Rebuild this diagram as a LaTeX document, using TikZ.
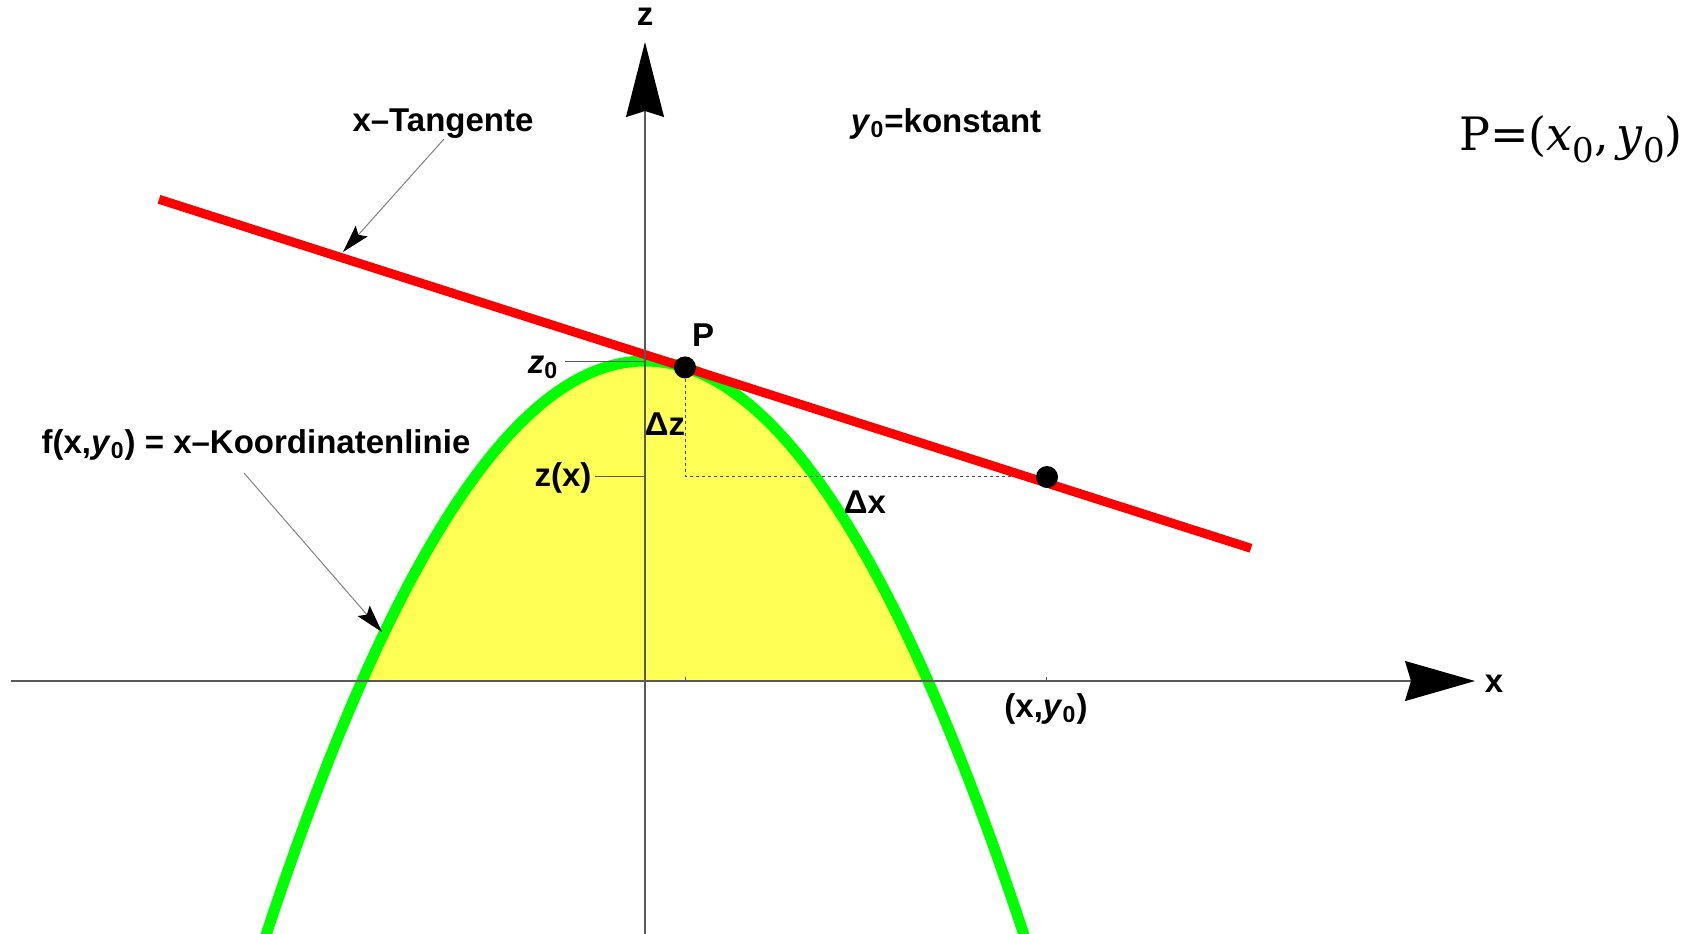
\documentclass[tikz,border=0pt]{standalone}
\usepackage{fontspec}
\setmainfont{Liberation Sans}
\newfontfamily\seriffont{DejaVu Serif}
\usetikzlibrary{arrows.meta}
\definecolor{parabgreen}{RGB}{0,255,0}
\definecolor{tangred}{RGB}{255,0,0}
\definecolor{fillyel}{RGB}{255,255,85}
\definecolor{axisgray}{RGB}{90,90,90}
\newcommand{\psub}[1]{\raisebox{-0.28em}{\fontsize{17}{20}\selectfont #1}}
\begin{document}
\begin{tikzpicture}[x=0.5pt,y=-0.5pt,
  lab/.style={font=\fontsize{16.5}{19}\selectfont\bfseries, inner sep=0pt},
  axisline/.style={draw=axisgray, line width=0.6pt},
  thinline/.style={draw=axisgray, line width=0.5pt},
  dashline/.style={draw=axisgray!80!black, line width=0.5pt, dash pattern=on 1.5pt off 1.5pt},
  bigtip/.style={-{Stealth[length=#1, width=19pt, inset=3pt, color=black]}},
  annot/.style={draw=gray, line width=0.5pt, -{Stealth[length=14pt, width=8pt, inset=2.5pt, color=black]}},
  dot/.style={circle, fill=black, minimum size=11pt, inner sep=0pt}]
\useasboundingbox (0,0) rectangle (1699,933);
\clip (0,0) rectangle (1699,933);
% yellow area
\fill[fillyel] plot[domain=-1:1, samples=120] ({645+283*\x},{361+320*\x*\x}) -- cycle;
% parabola
\draw[parabgreen, line width=5.5pt] plot[domain=-1.4:1.4, samples=160] ({645+283*\x},{361+320*\x*\x});
% coordinates
\coordinate (zbot) at (645,940);
\coordinate (ztop) at (645,42);
\coordinate (xleft) at (11,681);
\coordinate (xright) at (1475,681);
\coordinate (tl) at (159,199.3);
\coordinate (tr) at (1251,548.3);
\coordinate (z0a) at (565,361);
\coordinate (z0b) at (645,361);
\coordinate (zxa) at (595,476);
\coordinate (zxb) at (645,476);
\coordinate (tick1a) at (685,681);
\coordinate (tick1b) at (685,677);
\coordinate (tick2a) at (1046,681);
\coordinate (tick2b) at (1046,677);
\coordinate (corner) at (685,476);
% dashed helper lines
\draw[dashline] (685,367.4) -- (corner) -- (1047,476);
% tangent
\draw[tangred, line width=4.5pt] (tl) -- (tr);
% axes
\draw[axisline, bigtip=37.5pt] (zbot) -- (ztop);
\draw[axisline, -{Stealth[length=35pt, width=20pt, inset=3pt, color=black]}] (xleft) -- (xright);
\draw[thinline] (z0a) -- (z0b);
\draw[thinline] (zxa) -- (zxb);
\draw[thinline] (tick1a) -- (tick1b);
\draw[thinline] (tick2a) -- (tick2b);
% dots
\node[dot] (P) at (685,367.4) {};
\node[dot] (Q) at (1047,477) {};
% labels
\node[lab] (zlab) at (645,17) {z};
\node[lab] (xlab) at (1494,684) {x};
\node[lab] (tanlab) at (443,124) {x–Tangente};
\node[lab] (konst) at (946,124) {\textit{y}\textsubscript{0}=konstant};
\node[lab] (Plab) at (703,335) {P};
\node[lab] (z0lab) at (543,367) {\textit{z}\textsubscript{0}};
\node[lab] (dzlab) at (665,424) {Δz};
\node[lab] (zxlab) at (563,478) {z(x)};
\node[lab] (dxlab) at (865,502) {Δx};
\node[lab] (flab) at (256,445) {f(x,\textit{y}\textsubscript{0}) = x–Koordinatenlinie};
\node[lab] (xylab) at (1046,709) {(x,\textit{y}\textsubscript{0})};
\node[anchor=base west, inner sep=0pt, font=\seriffont\fontsize{23}{28}\selectfont] (pdef) at (1459,150) {P=(\textit{x}\psub{0},\,\textit{y}\psub{0})};
% annotation arrows
\coordinate (tanstart) at (444,139);
\coordinate (tantip) at (343,252);
\coordinate (fstart) at (244,473);
\coordinate (ftip) at (382,632);
\draw[annot] (tanstart) -- (tantip);
\draw[annot] (fstart) -- (ftip);
\end{tikzpicture}
\end{document}
